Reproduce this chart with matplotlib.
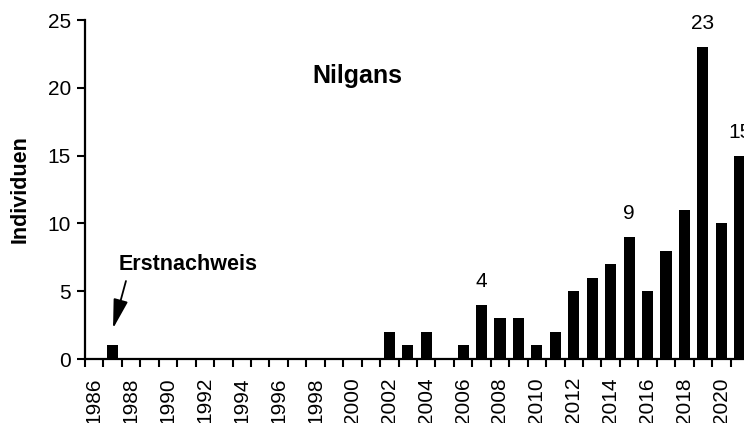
import matplotlib
matplotlib.use("Agg")
import matplotlib.pyplot as plt
import numpy as np

plt.rcParams['font.family'] = ['Liberation Sans', 'DejaVu Sans']

years = list(range(1986, 2022))
values = [0, 1, 0, 0, 0, 0, 0, 0, 0, 0, 0, 0, 0, 0, 0, 0,
          2, 1, 2, 0, 1, 4, 3, 3, 1, 2, 5, 6, 7, 9, 5, 8, 11, 23, 10, 15]
labelled_years = [2007, 2015, 2019, 2021]
tick_years = list(range(1986, 2021, 2))
title = "Nilgans"
ylabel = "Individuen"
note = "Erstnachweis"

fig = plt.figure(figsize=(7.44, 4.23), dpi=100)
ax = fig.add_axes([85/744, (423-359)/423, (749-85)/744, (359-20)/423])

ax.bar(years, values, width=0.6, color='black', zorder=3)

ax.set_xlim(1985.5, 2021.5)
ax.set_ylim(0, 25)
ax.set_yticks([0, 5, 10, 15, 20, 25])

ax.set_xticks(tick_years)
ax.set_xticklabels([str(y) for y in tick_years], rotation=90, fontsize=15)
ax.set_xticks(np.arange(1985.5, 2021.0, 1.0), minor=True)
ax.tick_params(axis='x', which='major', length=0, pad=13)
ax.tick_params(axis='x', which='minor', length=6, width=1.5, direction='out')
ax.tick_params(axis='y', length=6, width=1.5, labelsize=15, pad=4)

for s in ['top', 'right']:
    ax.spines[s].set_visible(False)
for s in ['left', 'bottom']:
    ax.spines[s].set_linewidth(1.6)

for y, v in zip(years, values):
    if y in labelled_years:
        ax.annotate(str(v), (y, v), xytext=(0, 13), textcoords='offset points',
                    ha='center', va='baseline', fontsize=15, annotation_clip=False)

fig.text(357/744, 1 - 83/423, title, ha='center', va='baseline', fontsize=18, fontweight='bold')
fig.text(20/744, 1 - 189/423, ylabel, ha='center', va='center', rotation=90,
         fontsize=15.5, fontweight='bold')

ax.text(1987.3, 6.97, note, fontsize=15.5, fontweight='bold', ha='left', va='center')
ax.annotate('', xy=(1987.02, 2.25), xytext=(1987.72, 5.75),
            arrowprops=dict(arrowstyle='-|>,head_length=1.8,head_width=0.45',
                            mutation_scale=10, color='black', lw=1.3,
                            shrinkA=0, shrinkB=0))

fig.savefig("out.png", dpi=100)
